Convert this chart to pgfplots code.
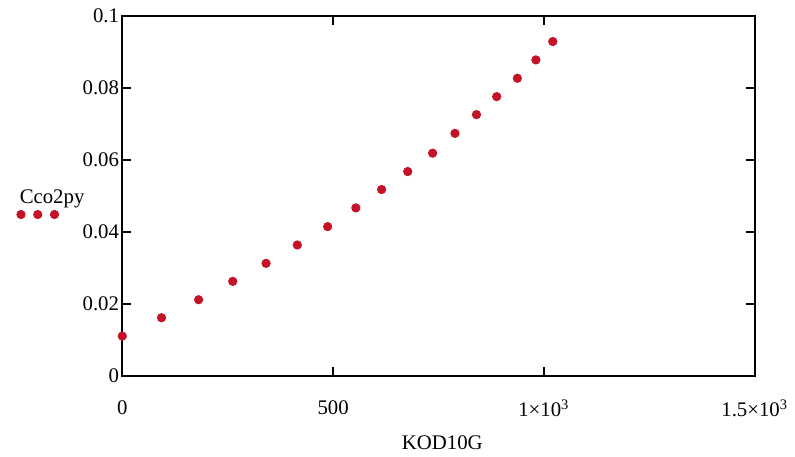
\documentclass[border=0pt]{standalone}
\usepackage{fontspec}
\setmainfont{Liberation Serif}
\usepackage{pgfplots}
\pgfplotsset{compat=1.18}
\definecolor{dotred}{RGB}{196,18,38}
\begin{document}
\fontsize{10.4}{12.5}\selectfont
\begin{tikzpicture}
\begin{axis}[
  at={(0,0)}, anchor=south west,
  scale only axis,
  width=316.75pt, height=180.35pt,
  xmin=0, xmax=1500, ymin=0, ymax=0.1,
  xtick={0,500,1000,1500},
  xticklabels={0,500,1\texttimes10\textsuperscript{3},1.5\texttimes10\textsuperscript{3}},
  ytick={0,0.02,0.04,0.06,0.08,0.1},
  yticklabels={0,0.02,0.04,0.06,0.08,0.1},
  tick align=inside,
  major tick length=4.5pt,
  axis line style={black, line width=0.9pt},
  tick style={black, line width=0.9pt},
  xticklabel style={anchor=center, yshift=-16pt},
  yticklabel style={anchor=east, xshift=2pt},
  xlabel={KOD10G},
  xlabel style={at={(axis description cs:0.506,0)}, anchor=center, yshift=-33.5pt},
  legend style={draw=none, fill=none, at={(axis description cs:-0.1665,0.493)}, anchor=west, inner sep=0pt, outer sep=0pt},
  legend image code/.code={%
    \path (0,0);
    \fill[dotred, overlay] (1.8pt,-8pt) circle (2.1pt);
    \fill[dotred, overlay] (10.2pt,-8pt) circle (2.1pt);
    \fill[dotred, overlay] (18.6pt,-8pt) circle (2.1pt);
  },
  legend cell align=left,
  clip=false,
]
\addplot[only marks, mark=*, mark size=2.1pt, mark options={draw=dotred, fill=dotred}] coordinates {
  (0,0.0111) (93,0.0162) (181,0.0212) (262,0.0263) (341,0.0313) (415,0.0364)
  (487,0.0415) (554,0.0467) (615,0.0518) (677,0.0568) (736,0.0619) (789,0.0674)
  (840,0.0726) (888,0.0776) (937,0.0827) (981,0.0878) (1021,0.0929)
};
\addlegendentry{\hspace{-1pt}Cco2py}
\end{axis}
\path (-61.25pt,-38.15pt) rectangle (336.25pt,188.35pt);
\end{tikzpicture}
\end{document}
